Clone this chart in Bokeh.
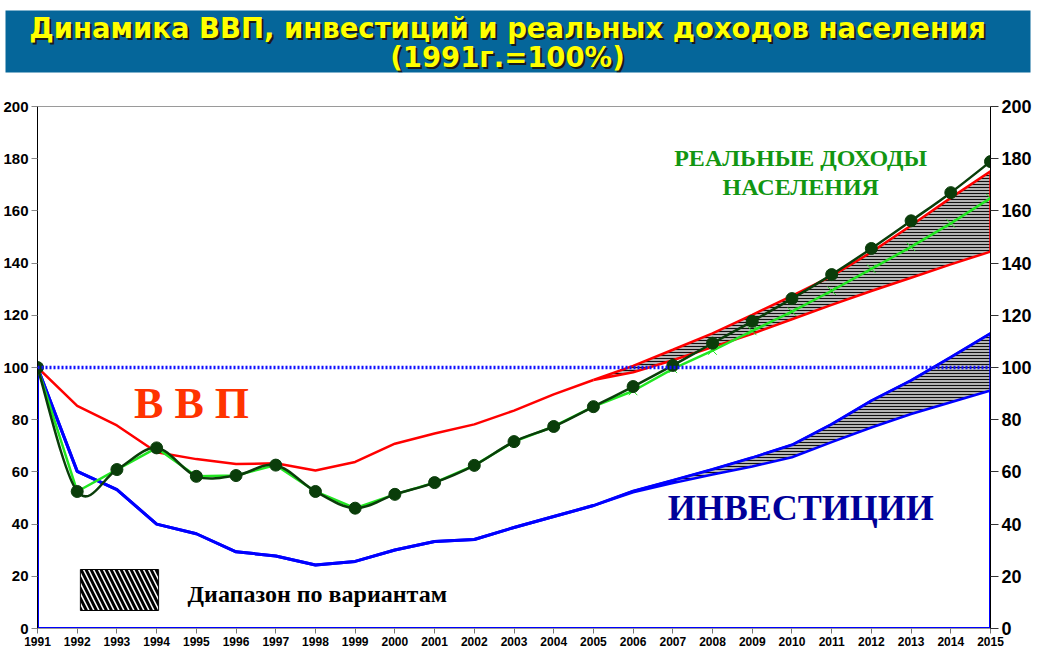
import numpy as np
from bokeh.plotting import figure
from bokeh.models import Range1d, LinearAxis, FixedTicker, Label, BoxAnnotation, Span
from bokeh.layouts import column
from bokeh.embed import file_html
from bokeh.resources import INLINE
from bokeh.core.properties import value

# ---------------- data ----------------
years = list(range(1991, 2016))
hist_years = list(range(1991, 2006))
fc_years = list(range(2005, 2016))
tick_values = list(range(0, 201, 20))
base_level = 100

gdp_hist = [100, 85.3, 77.8, 67.5, 64.9, 63.0, 63.3, 60.5, 63.8, 70.8, 74.7, 78.2, 83.5, 89.7, 95.2]
gdp_upper = [95.2, 100.6, 106.8, 113.1, 120.2, 127.4, 135.0, 144.2, 154.4, 165.0, 175.2]
gdp_lower = [95.2, 98.2, 102.8, 107.8, 112.9, 118.5, 124.0, 129.3, 134.4, 139.5, 144.4]

inv_hist = [100, 60.2, 53.2, 40.0, 36.3, 29.4, 27.8, 24.3, 25.7, 30.1, 33.3, 34.1, 38.7, 42.9, 47.1]
inv_upper = [47.1, 52.6, 56.7, 60.9, 65.4, 70.3, 78.2, 87.2, 95.0, 103.9, 113.0]
inv_lower = [47.1, 52.2, 55.7, 59.0, 62.1, 65.6, 71.4, 77.0, 82.2, 86.7, 91.2]

income = [100, 52.5, 60.9, 69.2, 58.3, 58.6, 62.6, 52.5, 46.1, 51.4, 55.9, 62.5, 71.6, 77.4,
          85.0, 92.7, 100.8, 109.3, 117.7, 126.4, 135.6, 145.6, 156.2, 167.0, 178.9]
income_alt = [100, 52.5, 60.9, 69.2, 58.3, 58.6, 62.6, 52.5, 46.1, 51.4, 55.9, 62.5, 71.6, 77.4,
              85.0, 91.0, 99.5, 106.5, 114.0, 121.4, 129.4, 137.8, 146.2, 155.2, 164.9]

title_lines = ["Динамика ВВП, инвестиций и реальных доходов населения", "(1991г.=100%)"]

# ---------------- title box ----------------
tf = figure(width=1043, height=74, x_range=Range1d(5, 1030), y_range=Range1d(72, 10),
            toolbar_location=None, output_backend="svg",
            min_border_left=5, min_border_right=13, min_border_top=10, min_border_bottom=2,
            x_axis_location=None, y_axis_location=None)
tf.frame_align = False
tf.background_fill_color = "#05669a"
tf.border_fill_color = "white"
tf.outline_line_color = None
tf.grid.visible = False
tfont = value("DejaVu Sans")
tf.text(x=[507, 507], y=[27, 56], text=title_lines, text_align="center", text_baseline="middle",
        text_font=tfont, text_font_style="bold", text_font_size="27.5px", text_color="#1a1a1a",
        x_offset=2, y_offset=2)
tf.text(x=[507, 507], y=[27, 56], text=title_lines, text_align="center", text_baseline="middle",
        text_font=tfont, text_font_style="bold", text_font_size="27.5px", text_color="#ffff00")

# ---------------- main chart ----------------
p = figure(width=1043, height=578, x_range=Range1d(1991, 2015), y_range=Range1d(0, 200),
           toolbar_location=None, output_backend="svg",
           min_border_left=37, min_border_right=53, min_border_top=32, min_border_bottom=24)
p.frame_align = False
p.background_fill_color = "white"
p.border_fill_color = "white"
p.outline_line_color = "#9a9a9a"
p.outline_line_width = 1
p.grid.visible = False

sans = "Liberation Sans"
serif = "Liberation Serif"

xa = p.xaxis[0]
xa.ticker = FixedTicker(ticks=years)
xa.major_label_text_font = sans
xa.major_label_text_font_style = "bold"
xa.major_label_text_font_size = "12px"
xa.major_label_text_color = "black"
xa.major_label_standoff = 3
xa.major_tick_out = 5
xa.major_tick_in = 0
xa.minor_tick_out = 0
xa.minor_tick_in = 0
xa.axis_line_color = "#999999"
xa.major_tick_line_color = "#777777"

ya = p.yaxis[0]
ya.ticker = FixedTicker(ticks=tick_values)
ya.major_label_text_font = sans
ya.major_label_text_font_style = "bold"
ya.major_label_text_font_size = "15px"
ya.major_label_text_color = "black"
ya.major_label_standoff = 3
ya.major_tick_out = 6
ya.major_tick_in = 0
ya.minor_tick_out = 0
ya.minor_tick_in = 0
ya.axis_line_color = "black"
ya.major_tick_line_color = "#888888"

ra = LinearAxis(ticker=FixedTicker(ticks=tick_values))
ra.major_label_text_font = sans
ra.major_label_text_font_style = "bold"
ra.major_label_text_font_size = "18px"
ra.major_label_text_color = "black"
ra.major_label_standoff = 3
ra.major_tick_out = 8
ra.major_tick_in = 0
ra.minor_tick_out = 0
ra.minor_tick_in = 0
ra.axis_line_color = "black"
ra.major_tick_line_color = "#333333"
p.add_layout(ra, "right")

# investments: outline of area down to zero
inv_full = inv_hist + inv_upper[1:]
p.patch(x=years + [years[-1], years[0]], y=inv_full + [0, 0], fill_color=None,
        line_color="#0000ff", line_width=3)

# ranges (bands): grey fill, then horizontal hatch, then outline
band_x = fc_years + fc_years[::-1]
for up, lo, col in ((inv_upper, inv_lower, "#0000ff"), (gdp_upper, gdp_lower, "#ff0000")):
    band_y = up + lo[::-1]
    p.patch(x=band_x, y=band_y, fill_color="#b4b4b4", fill_alpha=1, line_color=None)
    p.patch(x=band_x, y=band_y, fill_color=None, fill_alpha=0, hatch_pattern="-",
            hatch_color="black", hatch_scale=3, hatch_weight=1, hatch_alpha=0.9,
            line_color=None)
    p.patch(x=band_x, y=band_y, fill_color=None, line_color=col, line_width=2.5)

# 100% level
p.add_layout(Span(location=base_level, dimension="width", line_color="#1010ff",
                  line_width=3.5, line_dash="2 2"))

# historical lines
p.line(hist_years, gdp_hist, line_color="#ff0000", line_width=2.5)
p.line(hist_years, inv_hist, line_color="#0000ff", line_width=3)

# light green forecast (x markers)
p.line(years, income_alt, line_color="#22e622", line_width=2.5)
p.scatter(years, income_alt, marker="x", size=12, line_color="#22e622", line_width=1)

# dark green smoothed line (Bezier through the data points)
xs = np.array(years, dtype=float)
ys = np.array(income, dtype=float)
xp = np.r_[xs[0], xs, xs[-1]]
yp = np.r_[ys[0], ys, ys[-1]]
n = len(xs)
cx0 = xs[:-1] + (xp[2:n + 1] - xp[0:n - 1]) / 6.0
cy0 = ys[:-1] + (yp[2:n + 1] - yp[0:n - 1]) / 6.0
cx1 = xs[1:] - (xp[3:n + 2] - xp[1:n]) / 6.0
cy1 = ys[1:] - (yp[3:n + 2] - yp[1:n]) / 6.0
p.bezier(x0=xs[:-1], y0=ys[:-1], x1=xs[1:], y1=ys[1:], cx0=cx0, cy0=cy0, cx1=cx1, cy1=cy1,
         line_color="#0a3d0a", line_width=2.5)
p.scatter(years, income, marker="circle", size=12, fill_color="#0a3d0a", line_color="#0a3d0a")

# texts
p.add_layout(Label(x=1994.88, y=86.2, text="В В П", text_align="center", text_baseline="middle",
                   text_font=serif, text_font_style="bold", text_font_size="44px",
                   text_color="#ff3300"))
p.add_layout(Label(x=2010.22, y=46, text="ИНВЕСТИЦИИ", text_align="center", text_baseline="middle",
                   text_font=serif, text_font_style="bold", text_font_size="36px",
                   text_color="#000099"))
p.add_layout(Label(x=2010.22, y=180.1, text="РЕАЛЬНЫЕ ДОХОДЫ", text_align="center",
                   text_baseline="middle", text_font=serif, text_font_style="bold",
                   text_font_size="24px", text_color="#129612"))
p.add_layout(Label(x=2010.22, y=169.3, text="НАСЕЛЕНИЯ", text_align="center",
                   text_baseline="middle", text_font=serif, text_font_style="bold",
                   text_font_size="24px", text_color="#129612"))

# legend swatch
p.add_layout(BoxAnnotation(left=1992.08, right=1994.05, bottom=6.9, top=22.6,
                           fill_color="white", fill_alpha=1, hatch_pattern="\\",
                           hatch_color="black", hatch_weight=3, hatch_scale=10,
                           line_color="black", line_width=1, line_alpha=1))
p.add_layout(Label(x=1994.78, y=13.4, text="Диапазон по вариантам", text_align="left",
                   text_baseline="middle", text_font=serif, text_font_style="bold",
                   text_font_size="24px", text_color="black"))

layout = column(tf, p, spacing=0)
open("out.html", "w").write(file_html(layout, INLINE))
